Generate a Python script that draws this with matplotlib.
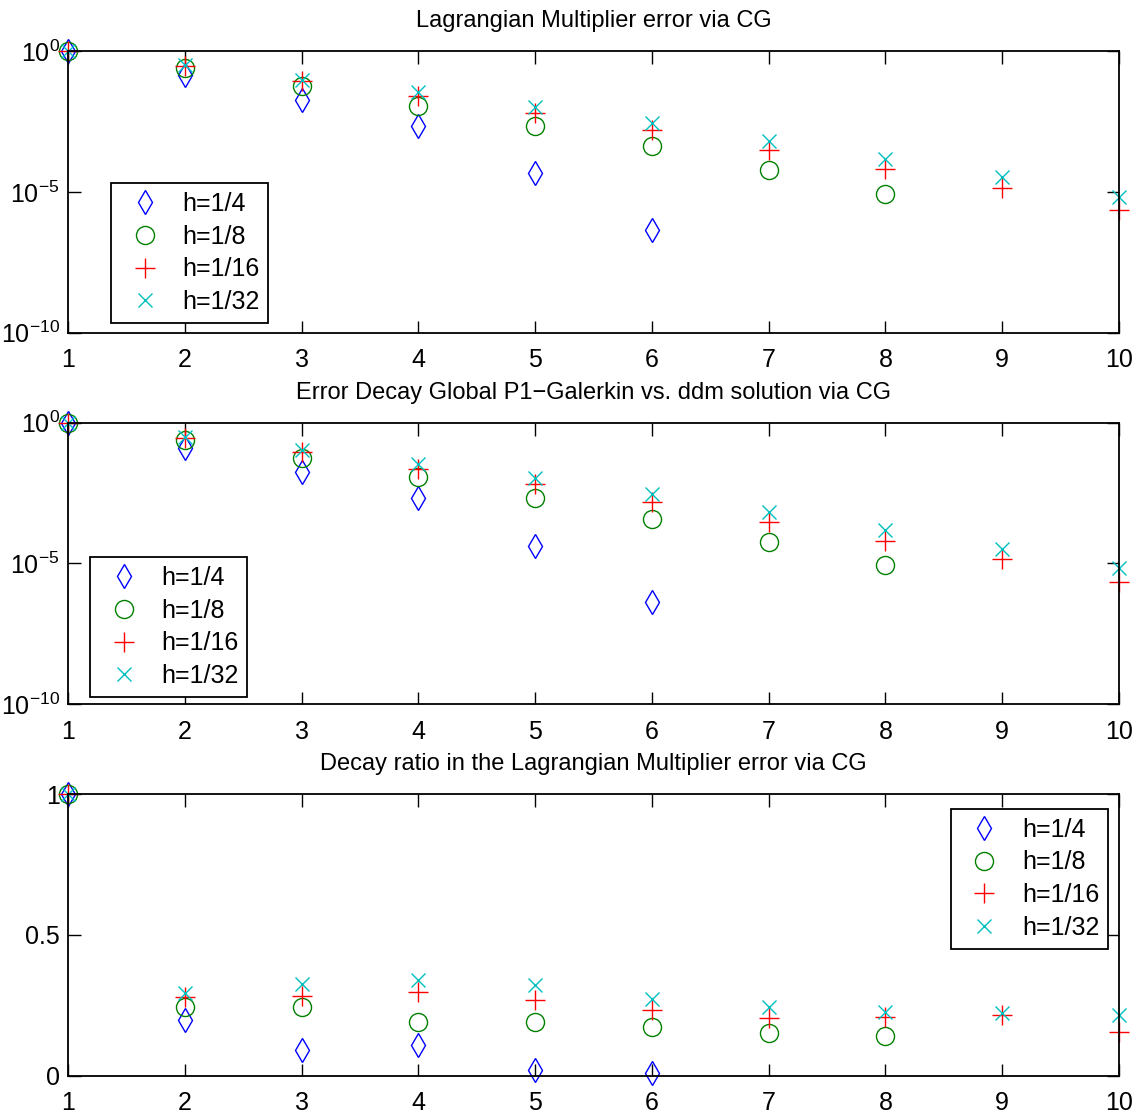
import numpy as np
import matplotlib
matplotlib.use("Agg")
from matplotlib import pyplot as plt

plt.rcParams['font.family'] = ['Liberation Sans Narrow', 'Liberation Sans', 'DejaVu Sans']
plt.rcParams['mathtext.default'] = 'regular'

iters = np.arange(1, 11)
labels = ['h=1/4', 'h=1/8', 'h=1/16', 'h=1/32']
nan = np.nan

# exponents (log10 of error)
lm_h4 = [0, -0.84, -1.73, -2.68, -4.34, -6.35, nan, nan, nan, nan]
lm_h8 = [0, -0.60, -1.23, -1.94, -2.65, -3.39, -4.22, -5.07, nan, nan]
lm_h16 = [0, -0.52, -1.05, -1.61, -2.20, -2.82, -3.51, -4.18, -4.85, -5.66]
lm_h32 = [0, -0.49, -1.02, -1.47, -1.99, -2.56, -3.18, -3.84, -4.49, -5.17]

gal_h4 = [0, -0.89, -1.74, -2.69, -4.37, -6.36, nan, nan, nan, nan]
gal_h8 = [0, -0.62, -1.24, -1.94, -2.66, -3.42, -4.22, -5.07, nan, nan]
gal_h16 = [0, -0.56, -1.05, -1.64, -2.19, -2.80, -3.51, -4.19, -4.84, -5.66]
gal_h32 = [0, -0.51, -0.98, -1.48, -1.95, -2.54, -3.16, -3.82, -4.49, -5.17]

ratio_h4 = [1, 0.198, 0.093, 0.109, 0.022, 0.011, nan, nan, nan, nan]
ratio_h8 = [1, 0.245, 0.243, 0.192, 0.192, 0.174, 0.150, 0.141, nan, nan]
ratio_h16 = [1, 0.278, 0.283, 0.296, 0.269, 0.233, 0.206, 0.209, 0.215, 0.156]
ratio_h32 = [1, 0.295, 0.325, 0.340, 0.321, 0.273, 0.243, 0.227, 0.221, 0.215]

styles = [
    dict(marker='d', color='#0000ff', ms=12.5, mfc='none', mew=1.0),
    dict(marker='o', color='#008000', ms=13, mfc='none', mew=1.0),
    dict(marker='+', color='#ff0000', ms=14, mew=1.0),
    dict(marker='x', color='#00bfbf', ms=10, mew=1.0),
]

W, H = 1145, 1114
fig = plt.figure(figsize=(W / 100, H / 100), dpi=100)

def add_ax(top, bottom):
    return fig.add_axes([68 / W, 1 - bottom / H, (1119 - 68) / W, (bottom - top) / H])

ax1 = add_ax(51, 332.7)
ax2 = add_ax(422.7, 704.3)
ax3 = add_ax(794, 1075.7)

panels = [
    (ax1, [lm_h4, lm_h8, lm_h16, lm_h32], True, 'Lagrangian Multiplier error via CG',
     dict(loc='upper left', bbox_to_anchor=(0.041, 0.531))),
    (ax2, [gal_h4, gal_h8, gal_h16, gal_h32], True,
     'Error Decay Global P1\u2212Galerkin vs. ddm solution via CG',
     dict(loc='upper left', bbox_to_anchor=(0.021, 0.523))),
    (ax3, [ratio_h4, ratio_h8, ratio_h16, ratio_h32], False,
     'Decay ratio in the Lagrangian Multiplier error via CG',
     dict(loc='upper right', bbox_to_anchor=(0.9895, 0.947))),
]

for ax, series, is_log, title, leg_kw in panels:
    for vals, st, lab in zip(series, styles, labels):
        y = np.array(vals, dtype=float)
        if is_log:
            y = 10.0 ** y
        ax.plot(iters, y, linestyle='none', label=lab, clip_on=False, **st)
    ax.set_xlim(1, 10)
    ax.set_xticks(iters)
    if is_log:
        ax.set_yscale('log')
        ax.set_ylim(1e-10, 1)
        ax.set_yticks([1e-10, 1e-5, 1])
        ax.set_yticklabels(['$10^{-10}$', '$10^{-5}$', '$10^{0}$'])
        ax.minorticks_off()
    else:
        ax.set_ylim(0, 1)
        ax.set_yticks([0, 0.5, 1])
        ax.set_yticklabels(['0', '0.5', '1'])
    ax.tick_params(direction='in', top=True, right=True, length=9, width=1.0,
                   labelsize=18, pad=6)
    ax.tick_params(axis='x', pad=11)
    for sp in ax.spines.values():
        sp.set_linewidth(1.3)
    ax.set_title(title, fontsize=17, pad=17)
    leg = ax.legend(fontsize=18, frameon=True, fancybox=False, edgecolor='black',
                    framealpha=1, borderaxespad=0, borderpad=0.35, labelspacing=0.35,
                    handlelength=2.0, handletextpad=0.5, **leg_kw)
    leg.get_frame().set_linewidth(1.3)

fig.savefig('out.png', dpi=100)
